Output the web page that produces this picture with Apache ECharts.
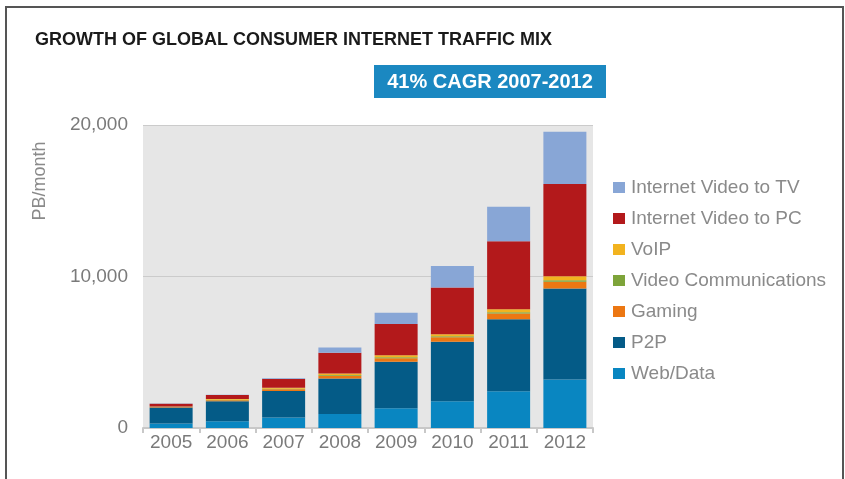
<!DOCTYPE html>
<html>
<head>
<meta charset="utf-8">
<script src="https://cdn.jsdelivr.net/npm/echarts@6/dist/echarts.min.js"></script>
<style>
html,body{margin:0;padding:0;background:#fff;}
#chart{width:845px;height:479px;}
</style>
</head>
<body>
<div id="chart"></div>
<script>
var years = ['2005','2006','2007','2008','2009','2010','2011','2012'];
var webData   = [300, 440, 700, 920, 1300, 1770, 2430, 3200];
var p2p       = [1050, 1320, 1740, 2350, 3070, 3930, 4750, 6000];
var gaming    = [40, 70, 110, 180, 240, 290, 380, 450];
var videoComm = [10, 30, 40, 50, 60, 60, 80, 100];
var voip      = [20, 50, 70, 100, 130, 140, 200, 260];
var videoPC   = [180, 260, 580, 1370, 2060, 3090, 4480, 6100];
var videoTV   = [20, 20, 50, 350, 740, 1410, 2280, 3450];
var yTicks = [0, 10000, 20000];
var legendOrder = ['Internet Video to TV','Internet Video to PC','VoIP','Video Communications','Gaming','P2P','Web/Data'];

var FONT = '"Liberation Sans", Arial, sans-serif';
var colors = {
  'Web/Data': '#0986c1',
  'P2P': '#045b87',
  'Gaming': '#ec7712',
  'Video Communications': '#7ea43a',
  'VoIP': '#f2b31f',
  'Internet Video to PC': '#b3191b',
  'Internet Video to TV': '#88a6d6'
};
function s(name, data){
  return {name:name, type:'bar', stack:'total', data:data, barWidth:43,
    itemStyle:{color:colors[name]}, emphasis:{disabled:true}};
}
var chart = echarts.init(document.getElementById('chart'), null, {renderer:'canvas'});
chart.setOption({
  animation:false,
  backgroundColor:'#ffffff',
  title:{text:'GROWTH OF GLOBAL CONSUMER INTERNET TRAFFIC MIX', left:30, top:26,
    textStyle:{fontFamily:FONT, fontSize:18, fontWeight:'bold', color:'#1a1a1a'}},
  graphic:[
    {type:'polyline', shape:{points:[[6,479],[6,7],[843,7],[843,479]]}, style:{stroke:'#555555', lineWidth:2, fill:null}},
    {type:'rect', shape:{x:374, y:65, width:232, height:33}, style:{fill:'#1b88c1'}},
    {type:'text', x:490, y:82, style:{text:'41% CAGR 2007-2012', fill:'#ffffff', font:'bold 20px "Liberation Sans", Arial, sans-serif', align:'center', verticalAlign:'middle'}},
    {type:'text', x:40, y:181, rotation:Math.PI/2, style:{text:'PB/month', fill:'#8a8a8a', font:'18px "Liberation Sans", Arial, sans-serif', align:'center', verticalAlign:'middle'}}
  ],
  legend:{orient:'vertical', left:608, top:173, itemWidth:12, itemHeight:11, itemGap:12,
    data:legendOrder, icon:'rect',
    textStyle:{fontFamily:FONT, fontSize:19, color:'#8a8a8a', padding:[0,0,0,1]}},
  grid:{left:143, right:252, top:125, bottom:51, show:true, backgroundColor:'#e6e6e6', borderWidth:0},
  xAxis:{type:'category', data:years,
    axisLine:{show:true, lineStyle:{color:'#c8c8c8', width:2}},
    axisTick:{show:true, length:5, lineStyle:{color:'#c8c8c8', width:2}},
    axisLabel:{fontFamily:FONT, fontSize:19, color:'#7a7a7a', margin:5}},
  yAxis:{type:'value', min:0, max:20000, interval:10000,
    axisLine:{show:false}, axisTick:{show:false},
    splitLine:{show:true, lineStyle:{color:'#cbcbcb', width:1}},
    axisLabel:{fontFamily:FONT, fontSize:19, color:'#7a7a7a', margin:15,
      formatter:function(v){ return yTicks.indexOf(v) >= 0 ? v.toLocaleString('en-US') : ''; }}},
  series:[
    s('Web/Data', webData),
    s('P2P', p2p),
    s('Gaming', gaming),
    s('Video Communications', videoComm),
    s('VoIP', voip),
    s('Internet Video to PC', videoPC),
    s('Internet Video to TV', videoTV)
  ]
});
</script>
</body>
</html>
